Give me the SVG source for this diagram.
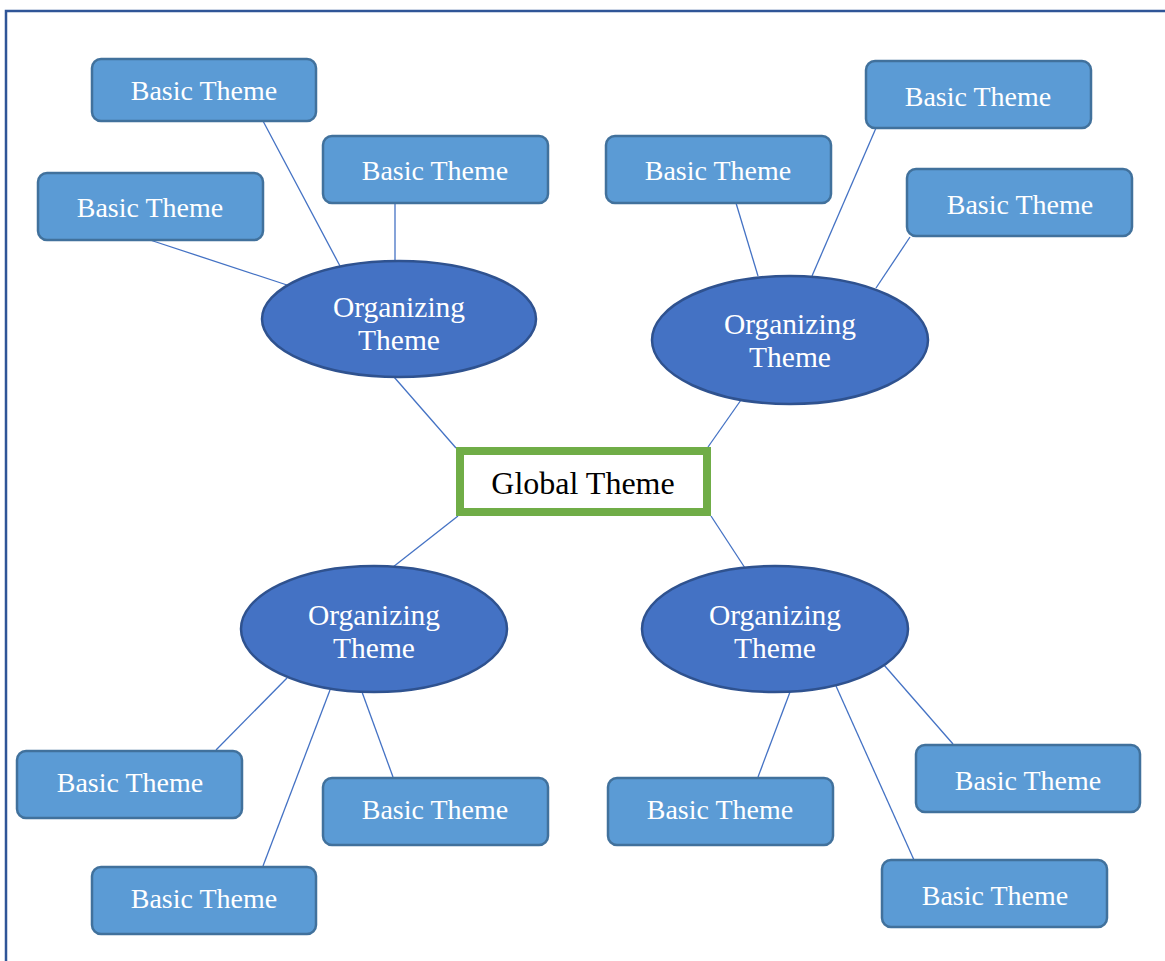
<svg xmlns="http://www.w3.org/2000/svg" width="1165" height="961" viewBox="0 0 1165 961">
  <style>
    .frame { fill: none; stroke: #2F5597; stroke-width: 2.5; }
    .link { stroke: #4472C4; stroke-width: 1.3; fill: none; }
    .basic rect { fill: #5B9BD5; stroke: #41719C; stroke-width: 2.5; }
    .org ellipse { fill: #4472C4; stroke: #2F528F; stroke-width: 2.5; }
    .lbl { font-family: "Liberation Serif", "Times New Roman", serif; fill: #FFFFFF; text-anchor: middle; }
    .basic text { font-size: 28px; }
    .org text { font-size: 29.5px; }
    .global rect { fill: #FFFFFF; stroke: #70AD47; stroke-width: 8; }
    .global text { font-family: "Liberation Serif", "Times New Roman", serif; font-size: 32px; fill: #000000; text-anchor: middle; }
  </style>

  <rect width="1165" height="961" fill="#FFFFFF"/>
  <!-- page frame: top and left edges -->
  <path class="frame" d="M1165 11 H6 V961"/>

  <g id="connectors">
    <line class="link" x1="340" y1="266" x2="263" y2="121"/>
    <line class="link" x1="395" y1="261" x2="395" y2="203"/>
    <line class="link" x1="287" y1="285" x2="150" y2="240"/>
    <line class="link" x1="394" y1="377" x2="456" y2="448"/>
    <line class="link" x1="758" y1="276" x2="736" y2="203"/>
    <line class="link" x1="812" y1="276" x2="876" y2="128"/>
    <line class="link" x1="876" y1="288" x2="910" y2="237"/>
    <line class="link" x1="741" y1="400" x2="708" y2="447"/>
    <line class="link" x1="393" y1="567" x2="458" y2="516"/>
    <line class="link" x1="287" y1="678" x2="216" y2="750"/>
    <line class="link" x1="330" y1="690" x2="263" y2="866"/>
    <line class="link" x1="362" y1="692" x2="393" y2="777"/>
    <line class="link" x1="745" y1="568" x2="711" y2="516"/>
    <line class="link" x1="790" y1="692" x2="758" y2="777"/>
    <line class="link" x1="836" y1="686" x2="914" y2="860"/>
    <line class="link" x1="884" y1="665" x2="953" y2="744"/>
  </g>

  <g id="global-theme" class="global">
    <rect x="460" y="451" width="247" height="61"/>
    <text x="583" y="494">Global Theme</text>
  </g>

  <g id="org-top-left" class="org">
    <ellipse cx="399" cy="319" rx="137" ry="58"/>
    <text class="lbl" x="399" y="317">Organizing</text>
    <text class="lbl" x="399" y="350">Theme</text>
  </g>
  <g id="org-top-right" class="org">
    <ellipse cx="790" cy="340" rx="138" ry="64"/>
    <text class="lbl" x="790" y="334">Organizing</text>
    <text class="lbl" x="790" y="367">Theme</text>
  </g>
  <g id="org-bottom-left" class="org">
    <ellipse cx="374" cy="629" rx="133" ry="63"/>
    <text class="lbl" x="374" y="625">Organizing</text>
    <text class="lbl" x="374" y="658">Theme</text>
  </g>
  <g id="org-bottom-right" class="org">
    <ellipse cx="775" cy="629" rx="133" ry="63"/>
    <text class="lbl" x="775" y="625">Organizing</text>
    <text class="lbl" x="775" y="658">Theme</text>
  </g>

  <g id="basic-1" class="basic">
    <rect x="92" y="59" width="224" height="62" rx="9"/>
    <text class="lbl" x="204" y="100">Basic Theme</text>
  </g>
  <g id="basic-2" class="basic">
    <rect x="323" y="136" width="225" height="67" rx="9"/>
    <text class="lbl" x="435" y="180">Basic Theme</text>
  </g>
  <g id="basic-3" class="basic">
    <rect x="38" y="173" width="225" height="67" rx="9"/>
    <text class="lbl" x="150" y="217">Basic Theme</text>
  </g>
  <g id="basic-4" class="basic">
    <rect x="606" y="136" width="225" height="67" rx="9"/>
    <text class="lbl" x="718" y="180">Basic Theme</text>
  </g>
  <g id="basic-5" class="basic">
    <rect x="866" y="61" width="225" height="67" rx="9"/>
    <text class="lbl" x="978" y="106">Basic Theme</text>
  </g>
  <g id="basic-6" class="basic">
    <rect x="907" y="169" width="225" height="67" rx="9"/>
    <text class="lbl" x="1020" y="214">Basic Theme</text>
  </g>
  <g id="basic-7" class="basic">
    <rect x="17" y="751" width="225" height="67" rx="9"/>
    <text class="lbl" x="130" y="792">Basic Theme</text>
  </g>
  <g id="basic-8" class="basic">
    <rect x="323" y="778" width="225" height="67" rx="9"/>
    <text class="lbl" x="435" y="819">Basic Theme</text>
  </g>
  <g id="basic-9" class="basic">
    <rect x="92" y="867" width="224" height="67" rx="9"/>
    <text class="lbl" x="204" y="908">Basic Theme</text>
  </g>
  <g id="basic-10" class="basic">
    <rect x="608" y="778" width="225" height="67" rx="9"/>
    <text class="lbl" x="720" y="819">Basic Theme</text>
  </g>
  <g id="basic-11" class="basic">
    <rect x="916" y="745" width="224" height="67" rx="9"/>
    <text class="lbl" x="1028" y="790">Basic Theme</text>
  </g>
  <g id="basic-12" class="basic">
    <rect x="882" y="860" width="225" height="67" rx="9"/>
    <text class="lbl" x="995" y="905">Basic Theme</text>
  </g>
</svg>
